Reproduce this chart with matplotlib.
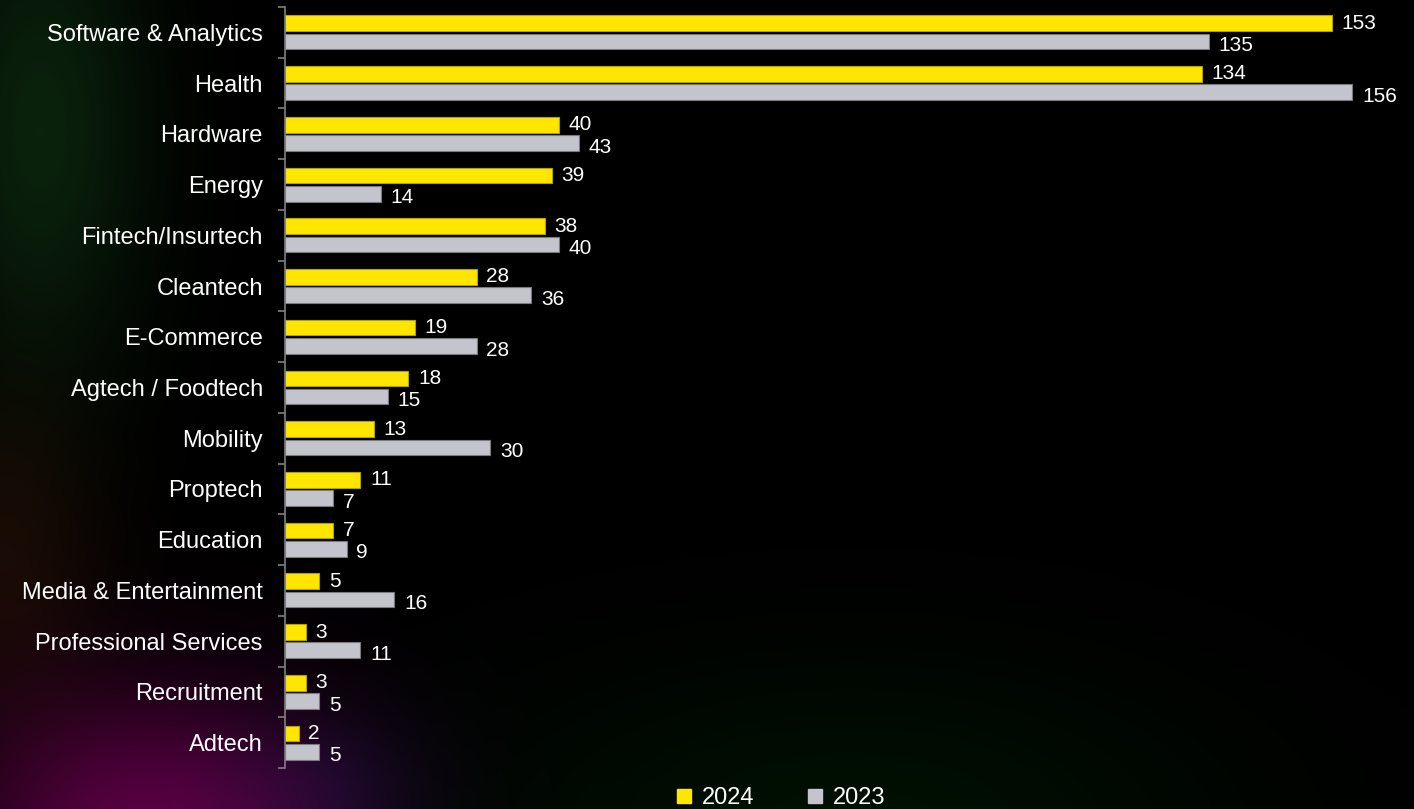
import numpy as np
import matplotlib
matplotlib.use("Agg")
import matplotlib.pyplot as plt
from matplotlib.lines import Line2D

plt.rcParams['font.family'] = ['Liberation Sans', 'DejaVu Sans']

sectors = ["Software & Analytics", "Health", "Hardware", "Energy", "Fintech/Insurtech",
           "Cleantech", "E-Commerce", "Agtech / Foodtech", "Mobility", "Proptech",
           "Education", "Media & Entertainment", "Professional Services", "Recruitment", "Adtech"]
deals_2024 = [153, 134, 40, 39, 38, 28, 19, 18, 13, 11, 7, 5, 3, 3, 2]
deals_2023 = [135, 156, 43, 14, 40, 36, 28, 15, 30, 7, 9, 16, 11, 5, 5]

yellow = "#FFE600"
grey = "#C4C4CD"

W, H = 1414, 809
fig = plt.figure(figsize=(W / 100, H / 100), dpi=100)
fig.patch.set_facecolor("black")

# dark backdrop with a few soft coloured glows
yy, xx = np.mgrid[0:H, 0:W].astype(float)
bg = np.zeros((H, W, 3))
glows = [
    # cx, cy, sx, sy, rgb
    (40, 130, 75, 170, (10, 34, 12)),
    (150, 830, 135, 100, (88, 0, 66)),
    (0, 560, 70, 110, (24, 10, 4)),
    (850, 830, 260, 120, (0, 16, 3)),
    (330, 790, 70, 60, (4, 6, 22)),
]
for cx, cy, sx, sy, rgb in glows:
    g = np.exp(-(((xx - cx) / sx) ** 2 + ((yy - cy) / sy) ** 2) / 2)
    bg += g[..., None] * np.array(rgb)[None, None, :]
bg = np.clip(bg / 255.0, 0, 1)
bax = fig.add_axes([0, 0, 1, 1], zorder=-1)
bax.imshow(bg, aspect="auto", extent=[0, 1, 0, 1], interpolation="bilinear")
bax.axis("off")

ax = fig.add_axes([285 / W, 1 - 768 / H, 1 - 285 / W, (768 - 7) / H])
ax.set_facecolor("none")

y = np.arange(len(sectors))
h = 0.31
off = 0.18
b1 = ax.barh(y - off, deals_2024, height=h, color=yellow, edgecolor="#B5A300", linewidth=0.8)
b2 = ax.barh(y + off, deals_2023, height=h, color=grey, edgecolor="#7A7A80", linewidth=0.8)

for yi, v in zip(y - off, deals_2024):
    ax.annotate(str(v), (v, yi), xytext=(7, 0), textcoords="offset points",
                va="center", ha="left", color="white", fontsize=15)
for yi, v in zip(y + off, deals_2023):
    ax.annotate(str(v), (v, yi), xytext=(7, -3), textcoords="offset points",
                va="center", ha="left", color="white", fontsize=15)

ax.set_ylim(len(sectors) - 0.5, -0.5)
ax.set_xlim(0, 165)
ax.set_yticks(y)
ax.set_yticklabels(sectors, color="white", fontsize=17)
ax.set_yticks(np.arange(len(sectors) + 1) - 0.5, minor=True)
ax.tick_params(axis="y", which="major", length=0, pad=16)
ax.tick_params(axis="y", which="minor", length=5, color="#7F7F7F", width=1.2)
ax.set_xticks([])
for side in ["top", "right", "bottom"]:
    ax.spines[side].set_visible(False)
ax.spines["left"].set_color("#7F7F7F")
ax.spines["left"].set_linewidth(1.2)

handles = [Line2D([], [], marker="s", linestyle="none", markersize=9.5, color=yellow),
           Line2D([], [], marker="s", linestyle="none", markersize=9.5, color=grey)]
leg = fig.legend(handles, ["2024", "2023"], loc="center", ncol=2, frameon=False,
                 bbox_to_anchor=(780 / W, 1 - 798 / H), fontsize=17, labelcolor="white",
                 handlelength=0.8, handletextpad=0.35, columnspacing=2.2)

fig.savefig("out.png", dpi=100, facecolor=fig.get_facecolor())
